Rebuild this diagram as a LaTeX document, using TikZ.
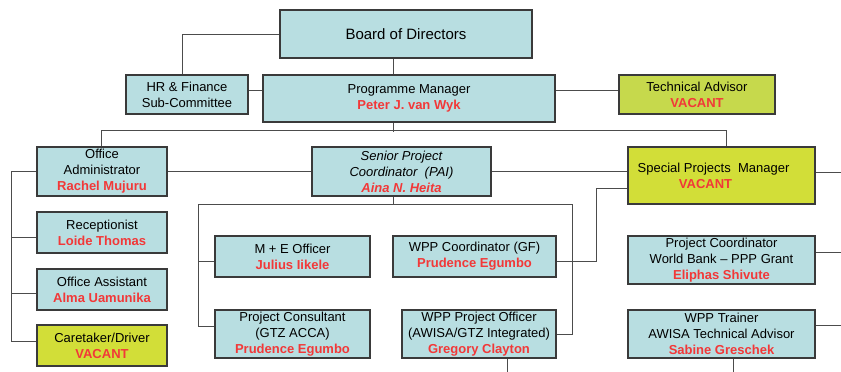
\documentclass[tikz,border=0pt]{standalone}
\usepackage{fontspec}
\setmainfont{Liberation Sans}
\definecolor{boxblue}{HTML}{B8DEE1}
\definecolor{boxgreen}{HTML}{C6D94C}
\definecolor{boxlime}{HTML}{D2DE38}
\definecolor{namered}{HTML}{F23838}
\definecolor{edgegray}{HTML}{3A3A3A}
\definecolor{linegray}{HTML}{4C4C4C}
\newcommand{\nm}[1]{{\color{namered}\bfseries #1}}
\tikzset{
  box/.style={draw=edgegray, line width=1.1pt, fill=boxblue, align=center, inner sep=0pt,
    font=\fontsize{13}{16}\selectfont},
  gbox/.style={box, fill=boxgreen},
  lbox/.style={box, fill=boxlime, line width=1.4pt},
  conn/.style={draw=linegray, line width=0.9pt},
}
\begin{document}
\begin{tikzpicture}[x=1pt, y=-1pt]
\useasboundingbox (0,0) rectangle (841,372);

% boxes
\node[box, minimum width=252pt, minimum height=48pt, font=\fontsize{15}{18}\selectfont] (board) at (406,34) {Board of Directors};
\node[box, minimum width=122pt, minimum height=39pt] (hr) at (187,94.5) {HR \& Finance\\Sub-Committee};
\node[box, minimum width=292pt, minimum height=47pt] (pm) at (409,98.5) {Programme Manager\\\nm{Peter J. van Wyk}};
\node[gbox, minimum width=156pt, minimum height=39pt] (ta) at (697,94.5) {Technical Advisor\\\nm{VACANT}};
\node[box, minimum width=130pt, minimum height=49pt] (oa) at (102,171.5) {Office\\Administrator\\\nm{Rachel Mujuru}};
\node[box, minimum width=179pt, minimum height=49pt] (spc) at (401.5,171.5) {{\itshape Senior Project}\\{\itshape Coordinator\ \ (PAI)}\\\nm{\itshape Aina N. Heita}};
\node[lbox, minimum width=187pt, minimum height=57pt] (spm) at (721.5,175.5) {Special Projects\ \ Manager\hspace*{16pt}\\\nm{VACANT}\hspace*{32pt}};
\node[box, minimum width=130pt, minimum height=41pt] (rec) at (102,232.5) {Receptionist\\\nm{Loide Thomas}};
\node[box, minimum width=130pt, minimum height=41pt] (oas) at (102,289.5) {Office Assistant\\\nm{Alma Uamunika}};
\node[lbox, line width=1.1pt, minimum width=130pt, minimum height=41pt] (care) at (102,345.5) {Caretaker/Driver\\\nm{VACANT}};
\node[box, minimum width=155pt, minimum height=41pt] (me) at (292.5,256.5) {M + E Officer\\\nm{Julius Iikele}};
\node[box, minimum width=155pt, minimum height=48pt] (pc) at (292.5,334) {Project Consultant\\(GTZ ACCA)\\\nm{Prudence Egumbo}};
\node[box, minimum width=163pt, minimum height=41pt] (wppc) at (474.5,256.5) {WPP Coordinator (GF)\\\nm{Prudence Egumbo}};
\node[box, minimum width=154pt, minimum height=48pt] (wppo) at (479,334) {WPP Project Officer\\(AWISA/GTZ Integrated)\\\nm{Gregory Clayton}};
\node[box, minimum width=187pt, minimum height=48pt] (pcwb) at (721.5,260) {Project Coordinator\\World Bank -- PPP Grant\\\nm{Eliphas Shivute}};
\node[box, minimum width=187pt, minimum height=48pt] (tr) at (721.5,334) {WPP Trainer\\AWISA Technical Advisor\\\nm{Sabine Greschek}};

% connectors
\draw[conn] (board.west) -| ([xshift=-5pt]hr.north);
\draw[conn] ([xshift=-13pt]board.south) -- ([xshift=-13pt]board.south |- pm.north);
\draw[conn] ([yshift=4.5pt]hr.east) -- ([yshift=4.5pt]hr.east -| pm.west);
\draw[conn] ([yshift=4.5pt]ta.west) -- ([yshift=4.5pt]ta.west -| pm.east);
\draw[conn] ([xshift=-16pt]pm.south) -- ++(0,9);
\draw[conn] ([xshift=-1pt]oa.north) -- ++(0,-16) -| ([xshift=4.5pt]spm.north);
\draw[conn] (oa.east) -- (spc.west);
\draw[conn] (spc.east) -- (spc.east -| spm.west);
\draw[conn] ([yshift=3.5pt]spm.east) -- ++(26,0) coordinate (edge1);
% left bus
\draw[conn] (oa.west) -- ++(-25,0) |- ([yshift=4.5pt]care.west);
\draw[conn] ([yshift=-4.5pt]rec.west) -- ++(-25,0);
\draw[conn] ([yshift=-3.5pt]oas.west) -- ++(-25,0);
% SPC group
\coordinate (spcb) at ([xshift=-8.5pt,yshift=-8pt]spc.south);
\draw[conn] ([xshift=-8.5pt]spc.south) -- (spcb);
\draw[conn] ([yshift=8pt]pc.west) -| ([xshift=-16pt]me.west |- spcb) -| ([xshift=16pt]wppo.east) -- (wppo.east);
\draw[conn] ([yshift=-4.5pt]me.west) -- ++(-16,0);
\draw[conn] ([yshift=-12.5pt]spm.west) -| ([xshift=40pt,yshift=-4.5pt]wppc.east) -- ([yshift=-4.5pt]wppc.east);
\draw[conn] ([xshift=28pt]wppo.south) -- ++(0,14);
% right group
\draw[conn] ([yshift=8pt]pcwb.east) -- ++(26,0);
\draw[conn] ([yshift=9pt]tr.east) -- ++(26,0);
\draw[conn] ([xshift=11.5pt]tr.south) -- ++(0,14);
\end{tikzpicture}
\end{document}
